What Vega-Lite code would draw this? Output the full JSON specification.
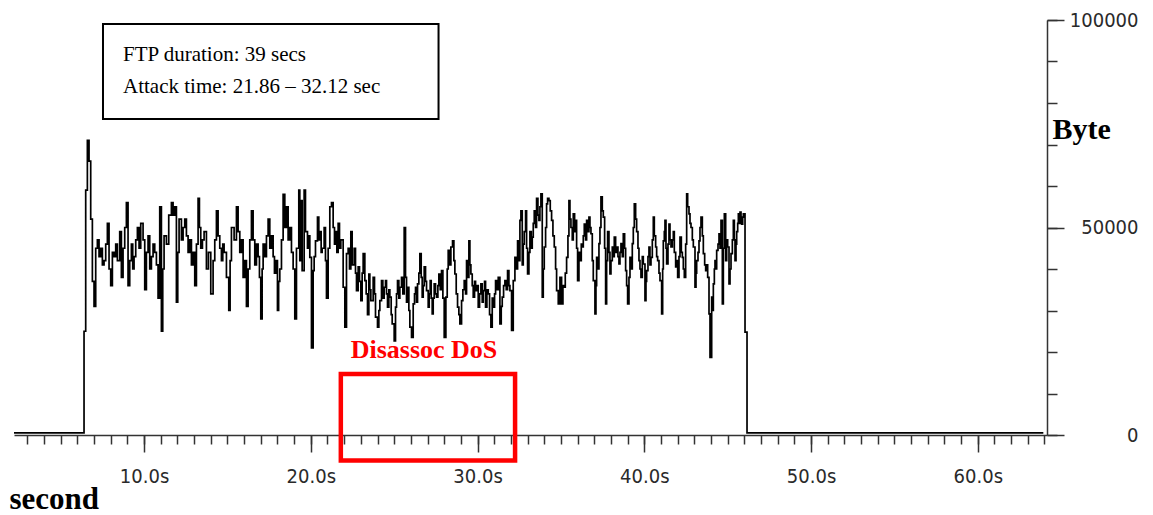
{
"$schema": "https://vega.github.io/schema/vega-lite/v6.json",
"width": 1033, "height": 415,
"autosize": "none",
"padding": {"left": 14, "top": 20, "right": 106, "bottom": 80},
"background": "white",
"config": {"view": {"stroke": null}, "axis": {"grid": false}},
"datasets": {
"traffic": [
{"t":2.2,"v":500},{"t":6.4,"v":25000},{"t":6.5,"v":59000},{"t":6.6,"v":71000},{"t":6.7,"v":66000},{"t":6.8,"v":52000},{"t":6.9,"v":37000},{"t":7.0,"v":31000},{"t":7.1,"v":45000},{"t":7.2,"v":47000},{"t":7.3,"v":43000},{"t":7.4,"v":45000},{"t":7.5,"v":41000},{"t":7.6,"v":42000},{"t":7.7,"v":46000},{"t":7.8,"v":51000},{"t":7.9,"v":40000},{"t":8.0,"v":36000},{"t":8.1,"v":44000},{"t":8.2,"v":43000},{"t":8.3,"v":46000},{"t":8.4,"v":42000},{"t":8.54,"v":49000},{"t":8.64,"v":38000},{"t":8.74,"v":45000},{"t":8.84,"v":50000},{"t":8.94,"v":56000},{"t":9.04,"v":36000},{"t":9.14,"v":42000},{"t":9.24,"v":46000},{"t":9.32,"v":40000},{"t":9.4,"v":43000},{"t":9.5,"v":47000},{"t":9.6,"v":50000},{"t":9.7,"v":45000},{"t":9.8,"v":51000},{"t":9.94,"v":47000},
{"t":10.04,"v":35000},{"t":10.14,"v":44000},{"t":10.24,"v":48000},{"t":10.34,"v":40000},{"t":10.44,"v":43000},{"t":10.54,"v":46000},{"t":10.64,"v":44000},{"t":10.74,"v":41000},{"t":10.84,"v":33000},{"t":10.94,"v":55000},{"t":11.04,"v":25000},{"t":11.12,"v":40000},{"t":11.2,"v":48000},{"t":11.34,"v":46000},{"t":11.48,"v":53000},{"t":11.64,"v":56000},{"t":11.74,"v":53000},{"t":11.84,"v":55000},{"t":11.94,"v":32000},{"t":12.02,"v":44000},{"t":12.1,"v":52000},{"t":12.24,"v":47000},{"t":12.34,"v":50000},{"t":12.44,"v":52000},{"t":12.54,"v":48000},{"t":12.64,"v":44000},{"t":12.74,"v":47000},{"t":12.84,"v":41000},{"t":12.94,"v":44000},{"t":13.04,"v":36000},{"t":13.14,"v":46000},{"t":13.24,"v":57000},{"t":13.32,"v":50000},{"t":13.4,"v":45000},{"t":13.5,"v":47000},{"t":13.6,"v":49000},{"t":13.74,"v":40000},{"t":13.86,"v":44000},{"t":14.0,"v":34000},{"t":14.14,"v":42000},{"t":14.24,"v":47000},{"t":14.34,"v":54000},{"t":14.44,"v":48000},{"t":14.54,"v":45000},{"t":14.64,"v":42000},{"t":14.72,"v":46000},{"t":14.8,"v":44000},{"t":14.94,"v":38000},
{"t":15.08,"v":30000},{"t":15.16,"v":42000},{"t":15.24,"v":50000},{"t":15.4,"v":47000},{"t":15.54,"v":55000},{"t":15.64,"v":49000},{"t":15.74,"v":44000},{"t":15.84,"v":47000},{"t":15.94,"v":38000},{"t":16.04,"v":42000},{"t":16.14,"v":31000},{"t":16.24,"v":40000},{"t":16.34,"v":47000},{"t":16.44,"v":54000},{"t":16.54,"v":47000},{"t":16.64,"v":41000},{"t":16.74,"v":46000},{"t":16.84,"v":43000},{"t":16.92,"v":38000},{"t":17.0,"v":28000},{"t":17.08,"v":40000},{"t":17.14,"v":46000},{"t":17.24,"v":43000},{"t":17.34,"v":48000},{"t":17.44,"v":52000},{"t":17.54,"v":45000},{"t":17.64,"v":48000},{"t":17.74,"v":43000},{"t":17.82,"v":39000},{"t":17.9,"v":42000},{"t":18.0,"v":30000},{"t":18.07,"v":37000},{"t":18.14,"v":40000},{"t":18.24,"v":47000},{"t":18.34,"v":58000},{"t":18.44,"v":50000},{"t":18.54,"v":55000},{"t":18.64,"v":47000},{"t":18.74,"v":50000},{"t":18.84,"v":44000},{"t":18.94,"v":40000},{"t":19.04,"v":28000},{"t":19.14,"v":45000},{"t":19.28,"v":59000},{"t":19.34,"v":42000},{"t":19.4,"v":56500},{"t":19.48,"v":39600},{"t":19.6,"v":59000},{"t":19.68,"v":49000},{"t":19.8,"v":45000},{"t":19.88,"v":48000},{"t":19.94,"v":42800},
{"t":20.04,"v":21000},{"t":20.14,"v":39600},{"t":20.2,"v":43000},{"t":20.28,"v":46800},{"t":20.4,"v":52500},{"t":20.48,"v":47000},{"t":20.54,"v":49000},{"t":20.62,"v":44000},{"t":20.68,"v":45000},{"t":20.8,"v":50000},{"t":20.88,"v":42000},{"t":20.94,"v":33000},{"t":21.04,"v":45000},{"t":21.14,"v":55000},{"t":21.24,"v":56000},{"t":21.34,"v":50000},{"t":21.42,"v":46000},{"t":21.48,"v":49000},{"t":21.56,"v":44000},{"t":21.64,"v":51000},{"t":21.72,"v":45000},{"t":21.8,"v":47000},{"t":21.94,"v":35600},{"t":22.04,"v":26000},{"t":22.14,"v":43700},{"t":22.24,"v":45000},{"t":22.32,"v":40000},{"t":22.4,"v":49000},{"t":22.48,"v":41000},{"t":22.6,"v":45000},{"t":22.68,"v":39000},{"t":22.74,"v":34800},{"t":22.84,"v":40500},{"t":22.92,"v":37000},{"t":23.0,"v":32400},{"t":23.08,"v":39000},{"t":23.14,"v":43700},{"t":23.24,"v":37200},{"t":23.32,"v":34000},{"t":23.4,"v":29000},{"t":23.48,"v":38800},{"t":23.54,"v":35000},{"t":23.6,"v":32400},{"t":23.74,"v":38000},{"t":23.82,"v":34000},{"t":23.88,"v":28400},{"t":24.0,"v":26000},{"t":24.08,"v":30000},{"t":24.14,"v":32400},{"t":24.24,"v":37200},{"t":24.32,"v":33000},{"t":24.4,"v":35600},{"t":24.48,"v":37200},{"t":24.54,"v":34000},{"t":24.6,"v":30800},{"t":24.68,"v":35000},{"t":24.74,"v":33200},{"t":24.82,"v":29000},{"t":24.88,"v":26800},
{"t":25.0,"v":22700},{"t":25.08,"v":30800},{"t":25.14,"v":34000},{"t":25.2,"v":37200},{"t":25.28,"v":33000},{"t":25.34,"v":35600},{"t":25.44,"v":38000},{"t":25.52,"v":34000},{"t":25.6,"v":50000},{"t":25.68,"v":38000},{"t":25.74,"v":32000},{"t":25.8,"v":35600},{"t":25.88,"v":30000},{"t":25.94,"v":26000},{"t":26.04,"v":23500},{"t":26.14,"v":31600},{"t":26.22,"v":34000},{"t":26.28,"v":35600},{"t":26.34,"v":32000},{"t":26.4,"v":36400},{"t":26.48,"v":39000},{"t":26.54,"v":43700},{"t":26.62,"v":38000},{"t":26.68,"v":33200},{"t":26.74,"v":36000},{"t":26.8,"v":40500},{"t":26.88,"v":37000},{"t":26.94,"v":34800},{"t":27.04,"v":30800},{"t":27.1,"v":34000},{"t":27.16,"v":37200},{"t":27.22,"v":33000},{"t":27.28,"v":29200},{"t":27.34,"v":33000},{"t":27.4,"v":36400},{"t":27.48,"v":34000},{"t":27.54,"v":33200},{"t":27.62,"v":36000},{"t":27.68,"v":38800},{"t":27.76,"v":35000},{"t":27.84,"v":39600},{"t":27.92,"v":33000},{"t":28.0,"v":23500},{"t":28.1,"v":33200},{"t":28.18,"v":40000},{"t":28.24,"v":44500},{"t":28.32,"v":41000},{"t":28.4,"v":45300},{"t":28.5,"v":46800},{"t":28.58,"v":42000},{"t":28.64,"v":38800},{"t":28.72,"v":34000},{"t":28.8,"v":30800},{"t":28.88,"v":29000},{"t":28.94,"v":26800},{"t":29.04,"v":32400},{"t":29.12,"v":35000},{"t":29.2,"v":37200},{"t":29.28,"v":34000},{"t":29.34,"v":42000},{"t":29.42,"v":38000},{"t":29.48,"v":46800},{"t":29.54,"v":41000},{"t":29.6,"v":38800},{"t":29.68,"v":36000},{"t":29.74,"v":33200},{"t":29.82,"v":37000},{"t":29.88,"v":34800},{"t":29.96,"v":36000},
{"t":30.04,"v":30800},{"t":30.12,"v":34000},{"t":30.2,"v":36400},{"t":30.28,"v":32000},{"t":30.34,"v":34800},{"t":30.42,"v":37000},{"t":30.48,"v":30800},{"t":30.56,"v":35000},{"t":30.64,"v":34000},{"t":30.72,"v":29000},{"t":30.8,"v":26000},{"t":30.88,"v":33000},{"t":30.94,"v":30800},{"t":31.02,"v":34000},{"t":31.08,"v":37200},{"t":31.16,"v":35000},{"t":31.24,"v":38000},{"t":31.34,"v":26800},{"t":31.42,"v":31000},{"t":31.48,"v":33200},{"t":31.56,"v":36000},{"t":31.64,"v":37200},{"t":31.72,"v":35000},{"t":31.8,"v":39600},{"t":31.88,"v":36000},{"t":31.94,"v":34800},{"t":32.04,"v":25200},{"t":32.14,"v":37200},{"t":32.24,"v":42800},{"t":32.32,"v":40000},{"t":32.4,"v":46800},{"t":32.48,"v":42000},{"t":32.54,"v":51700},{"t":32.6,"v":54000},{"t":32.68,"v":41000},{"t":32.74,"v":46000},{"t":32.8,"v":49000},{"t":32.88,"v":54000},{"t":32.94,"v":45000},{"t":33.0,"v":38800},{"t":33.08,"v":44000},{"t":33.14,"v":49000},{"t":33.22,"v":45000},{"t":33.28,"v":47700},{"t":33.34,"v":51000},{"t":33.4,"v":54000},{"t":33.48,"v":50000},{"t":33.54,"v":57000},{"t":33.62,"v":53000},{"t":33.68,"v":51700},{"t":33.74,"v":55000},{"t":33.8,"v":58100},{"t":33.88,"v":33200},{"t":33.94,"v":40000},{"t":34.0,"v":45300},{"t":34.08,"v":50000},{"t":34.14,"v":55700},{"t":34.2,"v":57000},{"t":34.28,"v":56500},{"t":34.36,"v":54000},{"t":34.44,"v":51700},{"t":34.52,"v":48000},{"t":34.6,"v":45300},{"t":34.68,"v":40000},{"t":34.74,"v":34800},{"t":34.84,"v":31600},{"t":34.94,"v":38000},
{"t":35.04,"v":31600},{"t":35.12,"v":36000},{"t":35.2,"v":35600},{"t":35.26,"v":39000},{"t":35.34,"v":42800},{"t":35.42,"v":48000},{"t":35.48,"v":56500},{"t":35.54,"v":52000},{"t":35.6,"v":50000},{"t":35.68,"v":47000},{"t":35.74,"v":53300},{"t":35.82,"v":49000},{"t":35.88,"v":51700},{"t":35.94,"v":45000},{"t":36.0,"v":37200},{"t":36.08,"v":44000},{"t":36.14,"v":42000},{"t":36.22,"v":46000},{"t":36.28,"v":45300},{"t":36.34,"v":48000},{"t":36.4,"v":50800},{"t":36.48,"v":47000},{"t":36.54,"v":51700},{"t":36.62,"v":49000},{"t":36.68,"v":52500},{"t":36.74,"v":50000},{"t":36.8,"v":48500},{"t":36.88,"v":42000},{"t":36.94,"v":37200},{"t":37.04,"v":29200},{"t":37.1,"v":36000},{"t":37.14,"v":42800},{"t":37.22,"v":40000},{"t":37.28,"v":46100},{"t":37.34,"v":50000},{"t":37.4,"v":57400},{"t":37.48,"v":54000},{"t":37.54,"v":52500},{"t":37.62,"v":45000},{"t":37.68,"v":31600},{"t":37.74,"v":42000},{"t":37.8,"v":49000},{"t":37.88,"v":44000},{"t":37.94,"v":38800},{"t":38.0,"v":42000},{"t":38.08,"v":45300},{"t":38.14,"v":43000},{"t":38.2,"v":47700},{"t":38.28,"v":44000},{"t":38.34,"v":45300},{"t":38.42,"v":43000},{"t":38.48,"v":41200},{"t":38.54,"v":44000},{"t":38.6,"v":46100},{"t":38.68,"v":43000},{"t":38.74,"v":48500},{"t":38.82,"v":45000},{"t":38.88,"v":39600},{"t":38.94,"v":36000},{"t":39.0,"v":31600},{"t":39.08,"v":38000},{"t":39.14,"v":42800},{"t":39.22,"v":40000},{"t":39.28,"v":46100},{"t":39.34,"v":50000},{"t":39.4,"v":55700},{"t":39.48,"v":52000},{"t":39.54,"v":49000},{"t":39.62,"v":45000},{"t":39.68,"v":42000},{"t":39.74,"v":40000},{"t":39.8,"v":38000},{"t":39.88,"v":43000},{"t":39.94,"v":41200},
{"t":40.04,"v":32400},{"t":40.1,"v":37000},{"t":40.14,"v":39600},{"t":40.22,"v":43000},{"t":40.28,"v":45300},{"t":40.34,"v":41000},{"t":40.4,"v":42800},{"t":40.48,"v":47000},{"t":40.54,"v":52500},{"t":40.6,"v":48000},{"t":40.68,"v":45300},{"t":40.74,"v":43000},{"t":40.8,"v":42000},{"t":40.88,"v":39000},{"t":40.94,"v":37200},{"t":41.04,"v":29200},{"t":41.1,"v":40000},{"t":41.14,"v":46800},{"t":41.2,"v":49000},{"t":41.24,"v":51700},{"t":41.3,"v":45000},{"t":41.34,"v":41200},{"t":41.42,"v":46000},{"t":41.48,"v":50800},{"t":41.54,"v":47000},{"t":41.6,"v":45300},{"t":41.68,"v":47000},{"t":41.74,"v":49000},{"t":41.8,"v":44000},{"t":41.88,"v":40500},{"t":41.94,"v":42000},{"t":42.0,"v":38000},{"t":42.08,"v":43000},{"t":42.14,"v":47700},{"t":42.22,"v":44000},{"t":42.28,"v":42800},{"t":42.34,"v":40000},{"t":42.4,"v":38000},{"t":42.48,"v":46000},{"t":42.54,"v":58100},{"t":42.6,"v":55000},{"t":42.68,"v":53300},{"t":42.74,"v":51000},{"t":42.8,"v":50000},{"t":42.88,"v":47000},{"t":42.94,"v":45300},{"t":43.04,"v":35600},{"t":43.1,"v":39000},{"t":43.14,"v":42000},{"t":43.22,"v":44000},{"t":43.28,"v":46800},{"t":43.34,"v":50000},{"t":43.4,"v":52500},{"t":43.48,"v":48000},{"t":43.54,"v":43700},{"t":43.62,"v":41000},{"t":43.68,"v":39600},{"t":43.74,"v":41000},{"t":43.8,"v":38000},{"t":43.88,"v":29200},{"t":43.94,"v":18700},{"t":44.04,"v":33200},{"t":44.1,"v":30000},{"t":44.14,"v":36400},{"t":44.2,"v":40000},{"t":44.24,"v":42000},{"t":44.3,"v":40000},{"t":44.34,"v":44500},{"t":44.42,"v":46000},{"t":44.48,"v":48500},{"t":44.54,"v":45000},{"t":44.6,"v":51700},{"t":44.68,"v":31600},{"t":44.74,"v":45000},{"t":44.8,"v":53300},{"t":44.88,"v":42000},{"t":44.94,"v":47000},
{"t":45.0,"v":45300},{"t":45.08,"v":36400},{"t":45.14,"v":40000},{"t":45.2,"v":43700},{"t":45.28,"v":47000},{"t":45.34,"v":51700},{"t":45.4,"v":47000},{"t":45.44,"v":42000},{"t":45.5,"v":46000},{"t":45.54,"v":49000},{"t":45.6,"v":51000},{"t":45.64,"v":53300},{"t":45.7,"v":51000},{"t":45.74,"v":53700},{"t":45.8,"v":52000},{"t":45.84,"v":50800},{"t":45.9,"v":52500},{"t":45.94,"v":53300},{"t":46.04,"v":24800},{"t":46.16,"v":500},{"t":63.93,"v":500}
],
"box": [{"x1": 7.537, "x2": 27.66, "y1": 99040, "y2": 76140}],
"notes": [{"t": 8.737, "v": 90190, "label": "FTP duration: 39 secs"}, {"t": 8.737, "v": 82340, "label": "Attack time: 21.86 – 32.12 sec"}],
"attack": [{"x1": 21.8, "x2": 32.25, "y1": 14700, "y2": -6150}],
"attackLabel": [{"t": 22.39, "v": 18480, "label": "Disassoc DoS"}]
},
"layer": [
{
"data": {"name": "traffic"},
"mark": {"type": "line", "interpolate": "step-after", "color": "black", "strokeWidth": 1.7, "clip": false},
"encoding": {
"x": {"field": "t", "type": "quantitative", "scale": {"domain": [2.2, 64.15], "nice": false, "zero": false},
"axis": {"orient": "bottom", "values": [10, 20, 30, 40, 50, 60], "tickSize": 17, "tickWidth": 1.5, "tickColor": "#333", "domainColor": "#333", "domainWidth": 1.5,
"labelExpr": "format(datum.value, '.1f') + 's'", "labelFont": "DejaVu Sans Condensed, DejaVu Sans", "labelFontSize": 20, "labelColor": "#2a2a2a", "labelBaseline": "alphabetic", "labelPadding": 30, "labelFlush": false, "labelOverlap": false,
"title": "second", "titleX": -5, "titleY": 73, "titleAlign": "left", "titleBaseline": "alphabetic", "titleFont": "Liberation Serif", "titleFontSize": 31, "titleFontWeight": "bold", "titleColor": "black"}},
"y": {"field": "v", "type": "quantitative", "scale": {"domain": [0, 100000], "nice": false},
"axis": {"orient": "right", "values": [0, 50000, 100000], "format": "d", "tickSize": 17, "tickWidth": 1.5, "tickColor": "#333", "domainColor": "#333", "domainWidth": 1.5,
"labelFont": "DejaVu Sans Condensed, DejaVu Sans", "labelFontSize": 20, "labelColor": "#2a2a2a", "labelAlign": "right", "labelBaseline": "middle", "labelPadding": 74, "labelFlush": false, "labelOverlap": false,
"title": "Byte", "titleX": 5, "titleY": 118, "titleAngle": 0, "titleAlign": "left", "titleBaseline": "alphabetic", "titleFont": "Liberation Serif", "titleFontSize": 30, "titleFontWeight": "bold", "titleColor": "black"}}
}
},
{
"data": {"name": "box"},
"mark": {"type": "rect", "fill": null, "stroke": "black", "strokeWidth": 2, "clip": false},
"encoding": {
"x": {"field": "x1", "type": "quantitative", "axis": {"orient": "bottom", "values": [3,4,5,6,7,8,9,10,11,12,13,14,15,16,17,18,19,20,21,22,23,24,25,26,27,28,29,30,31,32,33,34,35,36,37,38,39,40,41,42,43,44,45,46,47,48,49,50,51,52,53,54,55,56,57,58,59,60,61,62,63,64], "tickSize": 9, "tickWidth": 1.5, "tickColor": "#333", "labels": false, "domain": false, "title": null}},
"x2": {"field": "x2"},
"y": {"field": "y1", "type": "quantitative", "axis": {"orient": "right", "values": [0,10000,20000,30000,40000,50000,60000,70000,80000,90000,100000], "tickSize": 10, "tickWidth": 1.5, "tickColor": "#333", "labels": false, "domain": false, "title": null}},
"y2": {"field": "y2"}
}
},
{
"data": {"name": "notes"},
"mark": {"type": "text", "align": "left", "baseline": "alphabetic", "font": "Liberation Serif", "fontSize": 21, "color": "black", "clip": false},
"encoding": {
"x": {"field": "t", "type": "quantitative", "axis": null},
"y": {"field": "v", "type": "quantitative", "axis": null},
"text": {"field": "label"}
}
},
{
"data": {"name": "attack"},
"mark": {"type": "rect", "fill": null, "stroke": "#ff0000", "strokeWidth": 4.5, "clip": false},
"encoding": {
"x": {"field": "x1", "type": "quantitative", "axis": null},
"x2": {"field": "x2"},
"y": {"field": "y1", "type": "quantitative", "axis": null},
"y2": {"field": "y2"}
}
},
{
"data": {"name": "attackLabel"},
"mark": {"type": "text", "align": "left", "baseline": "alphabetic", "font": "Liberation Serif", "fontSize": 26, "fontWeight": "bold", "color": "#ff0000", "clip": false},
"encoding": {
"x": {"field": "t", "type": "quantitative", "axis": null},
"y": {"field": "v", "type": "quantitative", "axis": null},
"text": {"field": "label"}
}
}
],
"resolve": {"axis": {"x": "independent", "y": "independent"}}
}
